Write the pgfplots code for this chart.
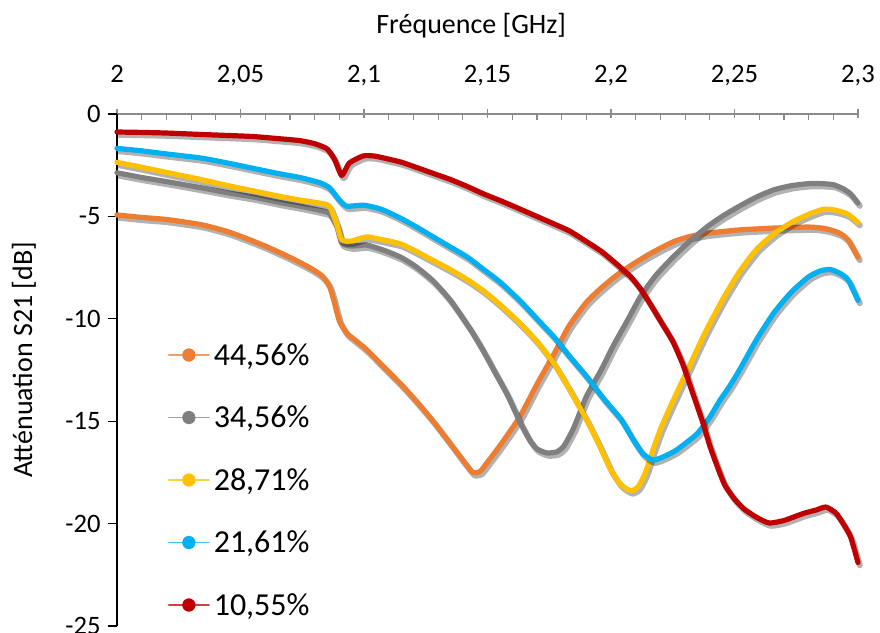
\documentclass[border=0pt]{standalone}
\usepackage{fontspec}
\setmainfont{Carlito}
\usepackage{pgfplots}
\usepackage{pgfplotstable}
\pgfplotsset{compat=1.18}
\definecolor{cOrange}{HTML}{ED7D31}
\definecolor{cGray}{HTML}{7F7F7F}
\definecolor{cYellow}{HTML}{FFC000}
\definecolor{cBlue}{HTML}{00B0F0}
\definecolor{cRed}{HTML}{C00000}

\pgfplotstableread{
f s
2.000 -4.93
2.010 -5.05
2.020 -5.15
2.034 -5.40
2.045 -5.75
2.055 -6.20
2.061 -6.50
2.070 -7.00
2.078 -7.50
2.083 -7.90
2.086 -8.40
2.088 -9.20
2.090 -10.1
2.093 -10.7
2.096 -11.0
2.101 -11.5
2.108 -12.35
2.115 -13.2
2.121 -14.0
2.128 -15.0
2.135 -16.1
2.140 -16.9
2.144 -17.5
2.147 -17.45
2.150 -17.0
2.155 -16.2
2.163 -14.8
2.170 -13.2
2.177 -11.7
2.183 -10.35
2.190 -9.2
2.196 -8.5
2.202 -7.9
2.208 -7.4
2.214 -6.95
2.220 -6.55
2.226 -6.2
2.232 -5.98
2.239 -5.82
2.252 -5.66
2.266 -5.57
2.280 -5.52
2.286 -5.58
2.290 -5.7
2.293 -5.85
2.296 -6.15
2.300 -7.0
}\dataA

\pgfplotstableread{
f s
2.000 -2.87
2.010 -3.1
2.020 -3.3
2.034 -3.6
2.045 -3.85
2.055 -4.05
2.065 -4.3
2.074 -4.5
2.082 -4.7
2.086 -4.85
2.089 -5.5
2.091 -6.3
2.095 -6.45
2.101 -6.4
2.108 -6.65
2.115 -7.0
2.121 -7.45
2.128 -8.15
2.135 -9.1
2.143 -10.5
2.148 -11.5
2.153 -12.6
2.158 -13.7
2.163 -15.0
2.167 -15.9
2.170 -16.35
2.174 -16.55
2.178 -16.5
2.181 -16.2
2.185 -15.3
2.190 -13.8
2.196 -12.5
2.201 -11.3
2.207 -10.0
2.212 -8.9
2.218 -7.9
2.225 -7.0
2.232 -6.2
2.239 -5.5
2.245 -5.0
2.252 -4.5
2.259 -4.05
2.266 -3.7
2.273 -3.5
2.280 -3.4
2.285 -3.4
2.290 -3.45
2.294 -3.65
2.297 -3.9
2.300 -4.35
}\dataB

\pgfplotstableread{
f s
2.000 -2.36
2.010 -2.6
2.020 -2.85
2.034 -3.2
2.045 -3.5
2.055 -3.75
2.065 -4.0
2.074 -4.2
2.082 -4.35
2.086 -4.5
2.089 -5.4
2.091 -6.15
2.095 -6.2
2.101 -6.0
2.108 -6.15
2.115 -6.35
2.121 -6.7
2.128 -7.15
2.135 -7.6
2.142 -8.1
2.148 -8.6
2.155 -9.3
2.163 -10.2
2.170 -11.1
2.177 -12.2
2.183 -13.4
2.190 -14.9
2.195 -16.1
2.200 -17.4
2.204 -18.1
2.208 -18.4
2.211 -18.2
2.214 -17.5
2.217 -16.4
2.220 -15.4
2.224 -14.3
2.231 -12.5
2.238 -10.7
2.245 -9.1
2.252 -7.7
2.259 -6.6
2.266 -5.85
2.273 -5.3
2.280 -4.9
2.286 -4.65
2.291 -4.7
2.296 -4.9
2.300 -5.3
}\dataC

\pgfplotstableread{
f s
2.000 -1.68
2.010 -1.8
2.020 -1.95
2.034 -2.15
2.045 -2.4
2.055 -2.65
2.065 -2.9
2.074 -3.1
2.082 -3.35
2.086 -3.6
2.090 -4.2
2.093 -4.5
2.0996 -4.45
2.104 -4.55
2.108 -4.7
2.115 -5.1
2.121 -5.5
2.128 -6.0
2.135 -6.5
2.142 -7.0
2.148 -7.55
2.155 -8.2
2.163 -9.1
2.170 -10.0
2.177 -10.9
2.183 -11.8
2.190 -12.8
2.197 -13.9
2.204 -14.9
2.209 -15.9
2.213 -16.6
2.217 -16.9
2.221 -16.75
2.226 -16.45
2.231 -16.0
2.235 -15.6
2.240 -14.8
2.244 -14.0
2.248 -13.3
2.252 -12.5
2.259 -11.0
2.266 -9.7
2.273 -8.7
2.280 -7.95
2.285 -7.65
2.289 -7.6
2.293 -7.8
2.296 -8.1
2.300 -9.1
}\dataD

\pgfplotstableread{
f s
2.000 -0.88
2.010 -0.9
2.020 -0.93
2.034 -1.0
2.045 -1.05
2.055 -1.1
2.065 -1.2
2.074 -1.3
2.080 -1.45
2.085 -1.7
2.088 -2.2
2.091 -3.0
2.094 -2.4
2.0996 -2.05
2.104 -2.05
2.108 -2.15
2.115 -2.35
2.121 -2.6
2.128 -2.9
2.135 -3.2
2.142 -3.55
2.148 -3.88
2.155 -4.22
2.162 -4.58
2.169 -4.95
2.176 -5.32
2.183 -5.7
2.189 -6.15
2.196 -6.7
2.202 -7.3
2.208 -7.95
2.212 -8.55
2.216 -9.3
2.220 -10.1
2.225 -11.1
2.229 -12.2
2.233 -13.6
2.237 -15.0
2.240 -16.2
2.243 -17.2
2.246 -18.1
2.250 -18.8
2.254 -19.3
2.259 -19.7
2.264 -19.97
2.270 -19.85
2.278 -19.5
2.283 -19.34
2.287 -19.19
2.291 -19.48
2.294 -20.0
2.297 -20.65
2.300 -21.9
}\dataE

\begin{document}
\begin{tikzpicture}
\begin{axis}[
  scale only axis,
  width=370.5pt, height=256pt,
  xmin=2, xmax=2.3, ymin=-25, ymax=0,
  axis x line*=top, axis y line*=left,
  xtick={2,2.05,2.1,2.15,2.2,2.25,2.3},
  ytick={-25,-20,-15,-10,-5,0},
  minor x tick num=4,
  tick align=outside,
  major tick length=4.5pt,
  minor tick length=3pt,
  major x tick style={yshift=-2pt},
  minor x tick style={yshift=-3pt},
  x axis line style={draw=black!45, line width=0.7pt},
  y axis line style={draw=black, line width=0.7pt},
  x tick style={draw=black!45, line width=0.6pt},
  y tick style={draw=black, line width=0.6pt},
  /pgf/number format/assume math mode=true,
  /pgf/number format/use comma,
  tick label style={font=\fontsize{13.3}{15}\selectfont},
  xticklabel style={anchor=base, yshift=11pt},
  yticklabel style={anchor=east, inner sep=0pt, xshift=-3.5pt},
  xlabel={Fréquence [GHz]},
  xlabel style={at={(axis description cs:0.478,1)}, anchor=base, yshift=40pt, font=\fontsize{14}{16}\selectfont},
  ylabel={Atténuation S21 [dB]},
  ylabel style={at={(axis description cs:0,0.52)}, anchor=center, yshift=46.5pt, font=\fontsize{14}{16}\selectfont},
  clip=false,
  legend cell align=left,
  legend style={at={(rel axis cs:0.0688,0.5605)}, anchor=north west, draw=none, fill=none,
    inner sep=0pt, outer sep=0pt, row sep=15.25pt,
    font=\fontsize{16}{19}\selectfont,
    nodes={text height=13pt, text depth=3pt, inner sep=0pt, inner xsep=2pt}},
  legend image code/.code={
    \draw[#1, line width=0.9pt, opacity=0.75] (0pt,0pt) -- (20pt,0pt);
    \fill[#1] (10pt,0pt) circle (2.1pt);
  },
  every axis plot/.append style={line width=2.6pt, line join=round, line cap=round, smooth, tension=0.35},
]
\addplot[black, opacity=0.3, line width=3pt, xshift=0.9pt, yshift=-1.4pt, forget plot] table[x=f,y=s]{\dataA};
\addplot[cOrange] table[x=f,y=s]{\dataA};
\addlegendentry{44,56\%}
\addplot[black, opacity=0.3, line width=3pt, xshift=0.9pt, yshift=-1.4pt, forget plot] table[x=f,y=s]{\dataB};
\addplot[cGray] table[x=f,y=s]{\dataB};
\addlegendentry{34,56\%}
\addplot[black, opacity=0.3, line width=3pt, xshift=0.9pt, yshift=-1.4pt, forget plot] table[x=f,y=s]{\dataC};
\addplot[cYellow] table[x=f,y=s]{\dataC};
\addlegendentry{28,71\%}
\addplot[black, opacity=0.3, line width=3pt, xshift=0.9pt, yshift=-1.4pt, forget plot] table[x=f,y=s]{\dataD};
\addplot[cBlue] table[x=f,y=s]{\dataD};
\addlegendentry{21,61\%}
\addplot[black, opacity=0.3, line width=3pt, xshift=0.9pt, yshift=-1.4pt, forget plot] table[x=f,y=s]{\dataE};
\addplot[cRed] table[x=f,y=s]{\dataE};
\addlegendentry{10,55\%}
\end{axis}
\pgfresetboundingbox
\path ([shift={(-58.5pt,-3.5pt)}]current axis.south west) rectangle ([shift={(11pt,57pt)}]current axis.north east);
\end{tikzpicture}
\end{document}
